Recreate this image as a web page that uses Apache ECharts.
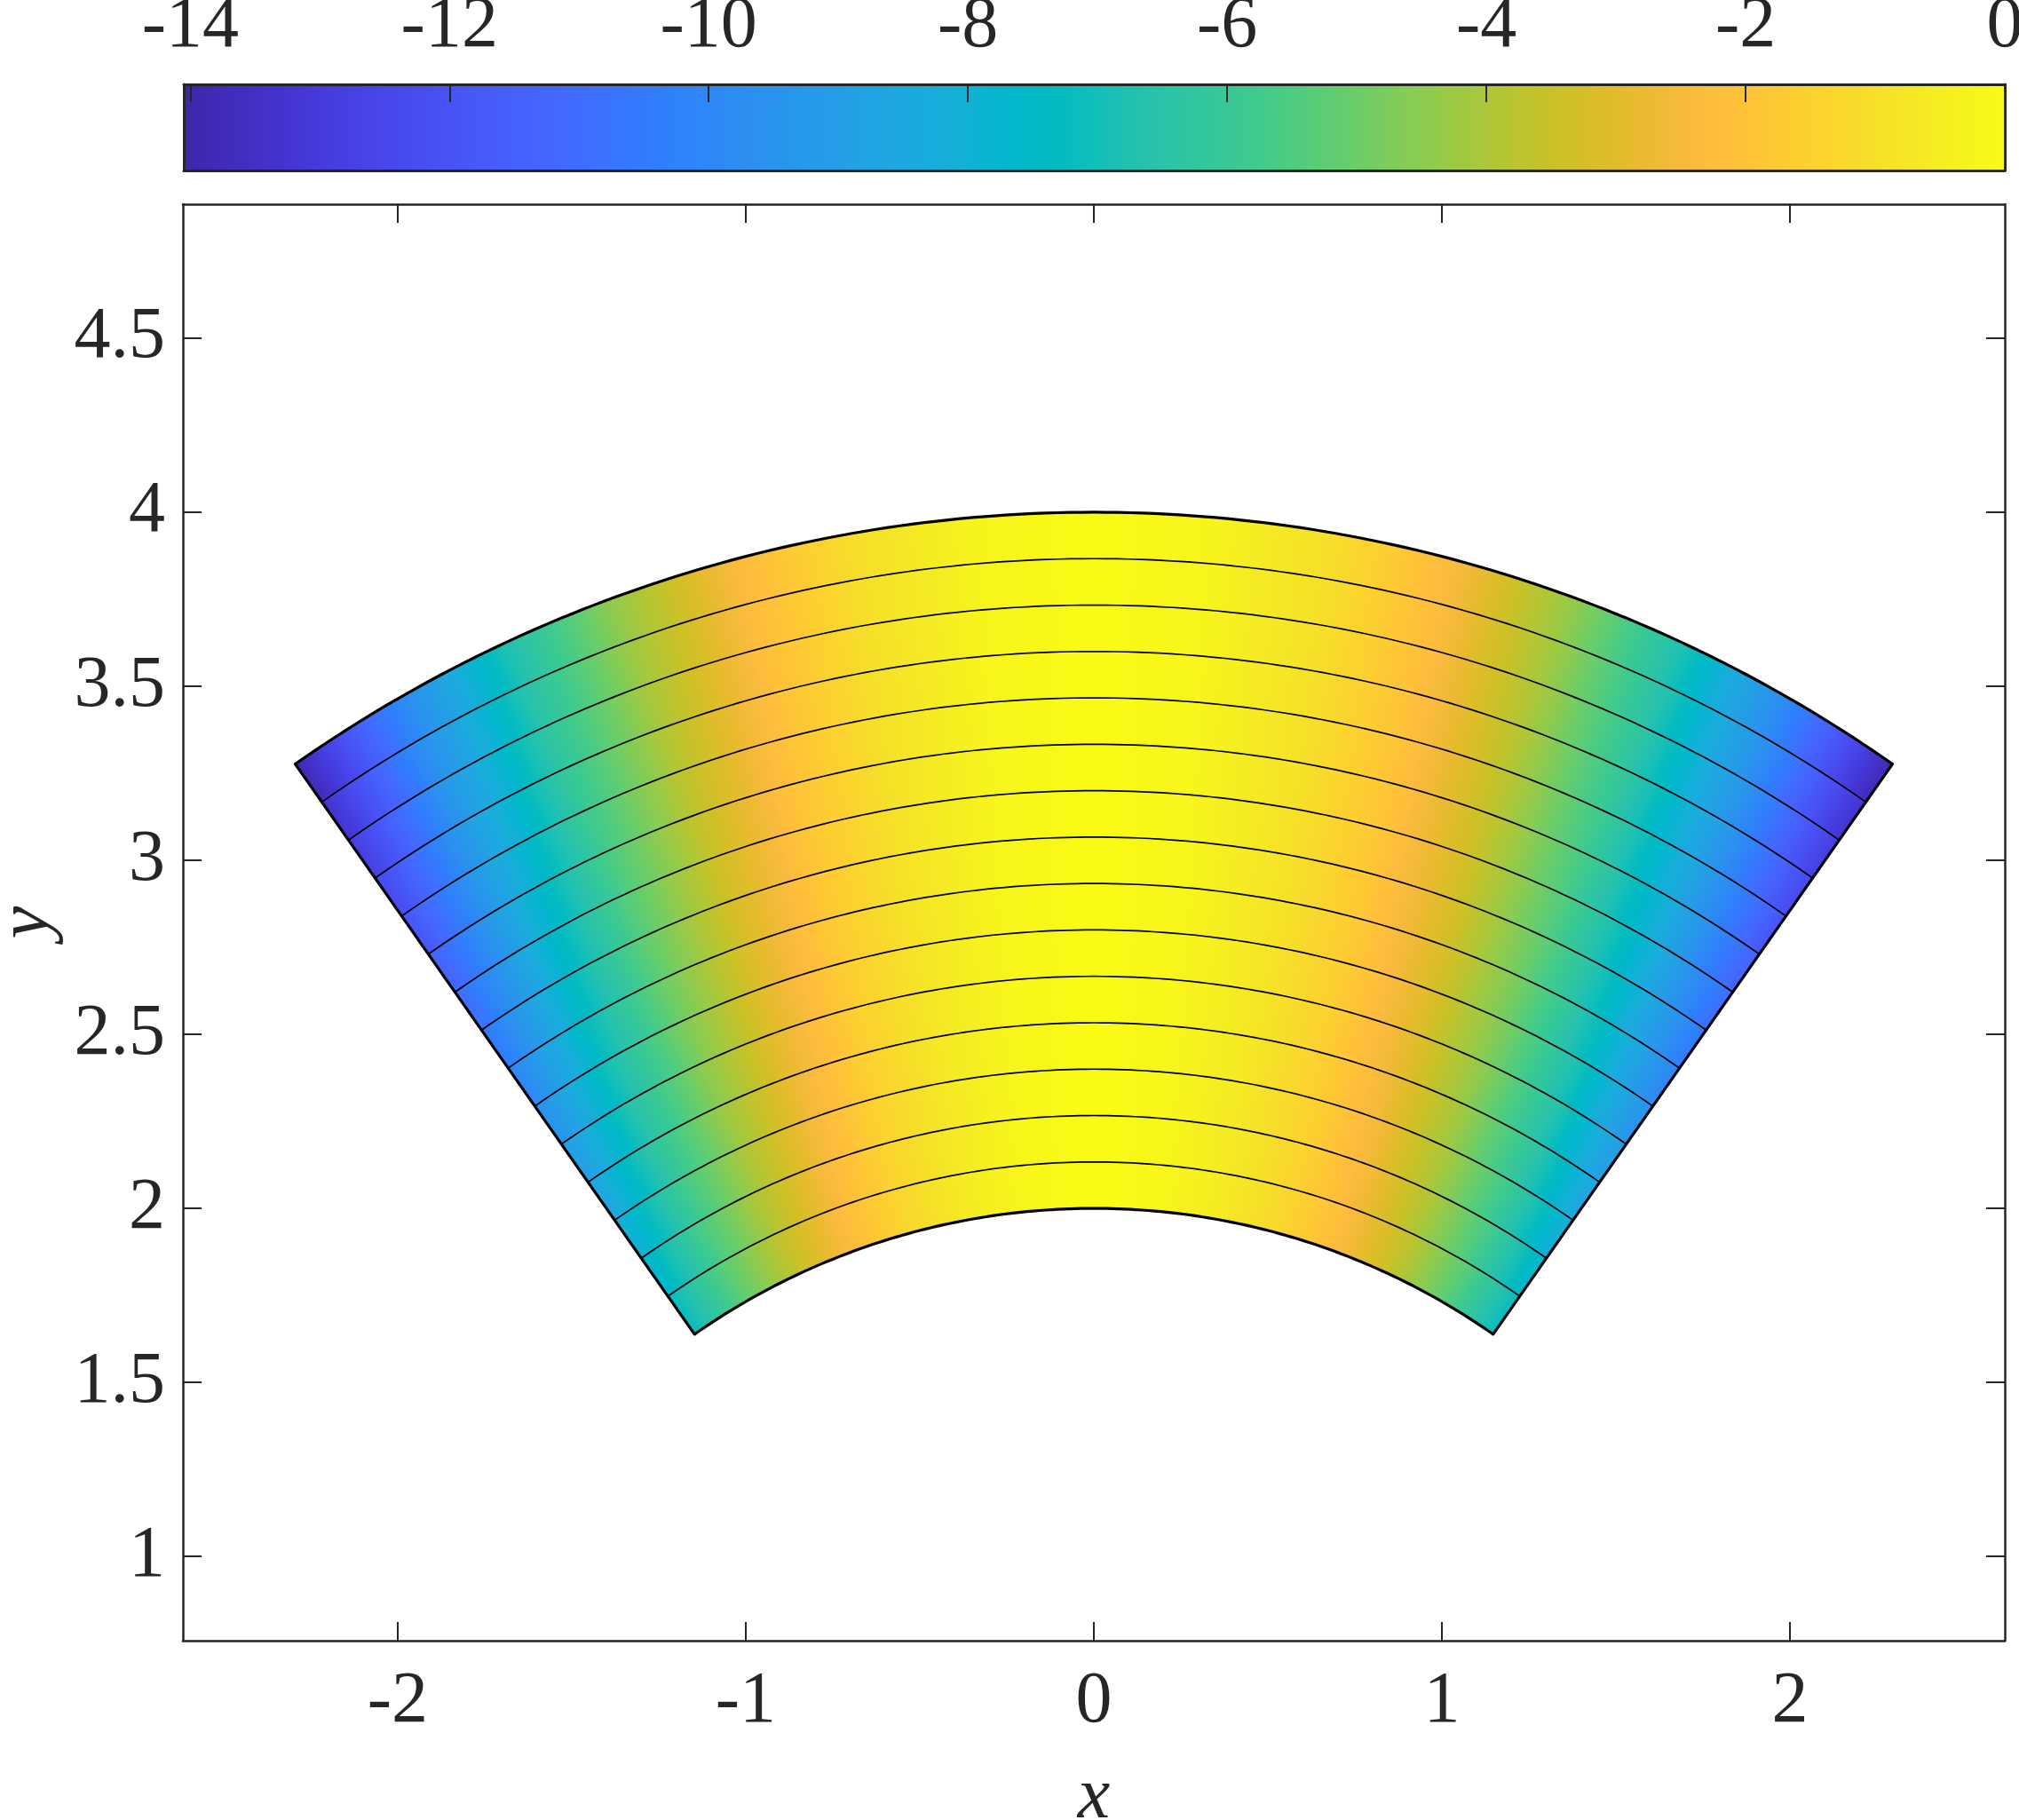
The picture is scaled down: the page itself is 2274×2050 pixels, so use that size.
<!DOCTYPE html>
<html><head><meta charset="utf-8">
<script src="https://cdn.jsdelivr.net/npm/echarts@6/dist/echarts.min.js"></script>
<style>html,body{margin:0;padding:0;background:#fff}#c{width:2274px;height:2050px}</style>
</head><body><div id="c"></div>
<script>
// ---- data ----
const radii = [2.0000, 2.1333, 2.2667, 2.4000, 2.5333, 2.6667, 2.8000, 2.9333,
               3.0667, 3.2000, 3.3333, 3.4667, 3.6000, 3.7333, 3.8667, 4.0000];
const thetaDeg = [-35, -30, -25, -20, -15, -10, -5, 0, 5, 10, 15, 20, 25, 30, 35];
// values[ring][angle]
const values = [
  [-7.03, -5.05, -3.45, -2.18, -1.21, -0.54, -0.13, 0, -0.13, -0.54, -1.21, -2.18, -3.45, -5.05, -7.03],
  [-7.49, -5.39, -3.68, -2.32, -1.29, -0.57, -0.14, 0, -0.14, -0.57, -1.29, -2.32, -3.68, -5.39, -7.49],
  [-7.96, -5.72, -3.91, -2.47, -1.37, -0.61, -0.15, 0, -0.15, -0.61, -1.37, -2.47, -3.91, -5.72, -7.96],
  [-8.43, -6.06, -4.14, -2.61, -1.46, -0.64, -0.16, 0, -0.16, -0.64, -1.46, -2.61, -4.14, -6.06, -8.43],
  [-8.90, -6.40, -4.37, -2.76, -1.54, -0.68, -0.17, 0, -0.17, -0.68, -1.54, -2.76, -4.37, -6.40, -8.90],
  [-9.37, -6.73, -4.60, -2.90, -1.62, -0.71, -0.18, 0, -0.18, -0.71, -1.62, -2.90, -4.60, -6.73, -9.37],
  [-9.84, -7.07, -4.83, -3.05, -1.70, -0.75, -0.19, 0, -0.19, -0.75, -1.70, -3.05, -4.83, -7.07, -9.84],
  [-10.30, -7.41, -5.06, -3.19, -1.78, -0.79, -0.20, 0, -0.20, -0.79, -1.78, -3.19, -5.06, -7.41, -10.30],
  [-10.77, -7.74, -5.29, -3.34, -1.86, -0.82, -0.20, 0, -0.20, -0.82, -1.86, -3.34, -5.29, -7.74, -10.77],
  [-11.24, -8.08, -5.52, -3.48, -1.94, -0.86, -0.21, 0, -0.21, -0.86, -1.94, -3.48, -5.52, -8.08, -11.24],
  [-11.71, -8.42, -5.75, -3.63, -2.02, -0.89, -0.22, 0, -0.22, -0.89, -2.02, -3.63, -5.75, -8.42, -11.71],
  [-12.18, -8.75, -5.98, -3.77, -2.10, -0.93, -0.23, 0, -0.23, -0.93, -2.10, -3.77, -5.98, -8.75, -12.18],
  [-12.65, -9.09, -6.21, -3.92, -2.18, -0.96, -0.24, 0, -0.24, -0.96, -2.18, -3.92, -6.21, -9.09, -12.65],
  [-13.11, -9.43, -6.43, -4.06, -2.26, -1.00, -0.25, 0, -0.25, -1.00, -2.26, -4.06, -6.43, -9.43, -13.11],
  [-13.58, -9.76, -6.66, -4.21, -2.35, -1.04, -0.26, 0, -0.26, -1.04, -2.35, -4.21, -6.66, -9.76, -13.58],
  [-14.05, -10.10, -6.89, -4.36, -2.43, -1.07, -0.27, 0, -0.27, -1.07, -2.43, -4.36, -6.89, -10.10, -14.05]
];
const colorLimits = [-14.05, 0];
const xRange = [-2.617, 2.617];
const yRange = [0.758, 4.885];
const xTicks = [-2, -1, 0, 1, 2];
const yTicks = [1, 1.5, 2, 2.5, 3, 3.5, 4, 4.5];
const cbTicks = [-14, -12, -10, -8, -6, -4, -2, 0];

// parula colormap (64 entries)
const parula = [
[0.2422,0.1504,0.6603],[0.2504,0.1650,0.7076],[0.2578,0.1818,0.7511],[0.2647,0.1978,0.7952],
[0.2706,0.2147,0.8364],[0.2751,0.2342,0.8710],[0.2783,0.2559,0.8991],[0.2803,0.2782,0.9221],
[0.2813,0.3006,0.9414],[0.2810,0.3228,0.9579],[0.2795,0.3447,0.9717],[0.2760,0.3667,0.9829],
[0.2699,0.3892,0.9906],[0.2602,0.4123,0.9952],[0.2440,0.4358,0.9988],[0.2206,0.4603,0.9973],
[0.1963,0.4847,0.9892],[0.1834,0.5074,0.9798],[0.1786,0.5289,0.9682],[0.1764,0.5499,0.9520],
[0.1687,0.5703,0.9359],[0.1540,0.5902,0.9218],[0.1460,0.6091,0.9079],[0.1380,0.6276,0.8973],
[0.1248,0.6459,0.8883],[0.1113,0.6635,0.8763],[0.0952,0.6798,0.8598],[0.0689,0.6948,0.8394],
[0.0297,0.7082,0.8163],[0.0036,0.7203,0.7917],[0.0067,0.7312,0.7660],[0.0433,0.7411,0.7394],
[0.0964,0.7500,0.7120],[0.1408,0.7584,0.6842],[0.1717,0.7670,0.6554],[0.1938,0.7758,0.6251],
[0.2161,0.7843,0.5923],[0.2470,0.7918,0.5567],[0.2906,0.7973,0.5188],[0.3406,0.8008,0.4789],
[0.3909,0.8029,0.4354],[0.4456,0.8024,0.3909],[0.5044,0.7993,0.3480],[0.5616,0.7942,0.3045],
[0.6174,0.7876,0.2612],[0.6720,0.7793,0.2227],[0.7242,0.7698,0.1910],[0.7738,0.7598,0.1646],
[0.8203,0.7498,0.1535],[0.8634,0.7406,0.1596],[0.9035,0.7330,0.1774],[0.9393,0.7288,0.2100],
[0.9728,0.7298,0.2394],[0.9956,0.7434,0.2371],[0.9970,0.7659,0.2199],[0.9952,0.7893,0.2028],
[0.9892,0.8136,0.1885],[0.9786,0.8386,0.1766],[0.9676,0.8639,0.1643],[0.9610,0.8890,0.1537],
[0.9597,0.9135,0.1423],[0.9628,0.9373,0.1265],[0.9691,0.9606,0.1064],[0.9769,0.9839,0.0805]
];

function rgbOf(c) {
  return 'rgb(' + c.map(function (x) { return Math.round(255 * x); }).join(',') + ')';
}
function cmap(v) {
  let t = (v - colorLimits[0]) / (colorLimits[1] - colorLimits[0]);
  t = Math.max(0, Math.min(1, t));
  const f = t * (parula.length - 1);
  const k = Math.min(Math.floor(f), parula.length - 2);
  const u = f - k;
  const a = parula[k], b = parula[k + 1];
  return rgbOf([0, 1, 2].map(function (i) { return a[i] + (b[i] - a[i]) * u; }));
}
const D2R = Math.PI / 180;
function polar(r, deg) { return [r * Math.sin(deg * D2R), r * Math.cos(deg * D2R)]; }

const cells = [];
for (let j = 0; j < radii.length - 1; j++)
  for (let i = 0; i < thetaDeg.length - 1; i++) cells.push([j, i]);
const rings = radii.map(function (r, k) { return [k]; });

const FONT = 'Liberation Serif';
const TXT = '#262626';
const FS = 82;

function mainAxisCommon(extra) {
  return Object.assign({
    type: 'value',
    gridIndex: 0,
    axisLine: { show: true, onZero: false, lineStyle: { color: TXT, width: 2.5 } },
    splitLine: { show: false },
    z: 5
  }, extra);
}

const option = {
  animation: false,
  backgroundColor: '#fff',
  grid: [
    { left: 206, top: 230, width: 2052, height: 1618, containLabel: false, outerBoundsMode: 'none' },
    { left: 207, top: 95, width: 2051, height: 97, containLabel: false, outerBoundsMode: 'none' }
  ],
  xAxis: [
    mainAxisCommon({
      position: 'bottom', min: xRange[0], max: xRange[1],
      axisTick: { show: true, inside: true, length: 21, customValues: xTicks, lineStyle: { color: TXT, width: 2 } },
      axisLabel: { show: true, customValues: xTicks, fontFamily: FONT, fontSize: FS, color: TXT, margin: 28 },
      name: 'x', nameLocation: 'middle', nameGap: 136,
      nameTextStyle: { fontFamily: FONT, fontStyle: 'italic', fontSize: FS, color: TXT }
    }),
    mainAxisCommon({
      position: 'top', min: xRange[0], max: xRange[1],
      axisTick: { show: true, inside: true, length: 21, customValues: xTicks, lineStyle: { color: TXT, width: 2 } },
      axisLabel: { show: false }
    }),
    {
      type: 'value', gridIndex: 1, position: 'top', min: colorLimits[0], max: colorLimits[1], z: 10,
      axisLine: { show: true, onZero: false, lineStyle: { color: TXT, width: 3 } },
      axisTick: { show: true, inside: true, length: 20, customValues: cbTicks, lineStyle: { color: TXT, width: 2 } },
      axisLabel: { show: true, customValues: cbTicks, fontFamily: FONT, fontSize: FS, color: TXT, margin: 24 },
      splitLine: { show: false }
    },
    {
      type: 'value', gridIndex: 1, position: 'bottom', min: colorLimits[0], max: colorLimits[1], z: 10,
      axisLine: { show: true, onZero: false, lineStyle: { color: TXT, width: 3 } },
      axisTick: { show: false }, axisLabel: { show: false }, splitLine: { show: false }
    }
  ],
  yAxis: [
    mainAxisCommon({
      position: 'left', min: yRange[0], max: yRange[1],
      axisTick: { show: true, inside: true, length: 21, customValues: yTicks, lineStyle: { color: TXT, width: 2 } },
      axisLabel: { show: true, customValues: yTicks, fontFamily: FONT, fontSize: FS, color: TXT, margin: 20 },
      name: 'y', nameLocation: 'middle', nameGap: 132, nameRotate: 90,
      nameTextStyle: { fontFamily: FONT, fontStyle: 'italic', fontSize: FS, color: TXT }
    }),
    mainAxisCommon({
      position: 'right', min: yRange[0], max: yRange[1],
      axisTick: { show: true, inside: true, length: 21, customValues: yTicks, lineStyle: { color: TXT, width: 2 } },
      axisLabel: { show: false }
    }),
    {
      type: 'value', gridIndex: 1, position: 'left', min: 0, max: 1, z: 10,
      axisLine: { show: true, onZero: false, lineStyle: { color: TXT, width: 3 } },
      axisTick: { show: false }, axisLabel: { show: false }, splitLine: { show: false }
    },
    {
      type: 'value', gridIndex: 1, position: 'right', min: 0, max: 1, z: 10,
      axisLine: { show: true, onZero: false, lineStyle: { color: TXT, width: 3 } },
      axisTick: { show: false }, axisLabel: { show: false }, splitLine: { show: false }
    }
  ],
  series: [
    {
      type: 'custom', xAxisIndex: 2, yAxisIndex: 2, z: 1, silent: true,
      data: [[colorLimits[0], 0]],
      renderItem: function (params, api) {
        const p0 = api.coord([colorLimits[0], 1]);
        const p1 = api.coord([colorLimits[1], 0]);
        const stops = parula.map(function (c, k) { return { offset: k / (parula.length - 1), color: rgbOf(c) }; });
        return {
          type: 'rect',
          shape: { x: p0[0], y: p0[1], width: p1[0] - p0[0], height: p1[1] - p0[1] },
          style: { fill: new echarts.graphic.LinearGradient(0, 0, 1, 0, stops) }
        };
      }
    },
    {
      type: 'custom', xAxisIndex: 0, yAxisIndex: 0, z: 2, silent: true,
      data: cells,
      renderItem: function (params, api) {
        const j = api.value(0), i = api.value(1);
        const r0 = radii[j], r1 = radii[j + 1];
        const t0 = thetaDeg[i], t1 = thetaDeg[i + 1];
        const N = 8, pts = [];
        for (let k = 0; k <= N; k++) pts.push(api.coord(polar(r1, t0 + (t1 - t0) * k / N)));
        for (let k = N; k >= 0; k--) pts.push(api.coord(polar(r0, t0 + (t1 - t0) * k / N)));
        const vL = (values[j][i] + values[j + 1][i]) / 2;
        const vR = (values[j][i + 1] + values[j + 1][i + 1]) / 2;
        const rm = (r0 + r1) / 2;
        const pL = api.coord(polar(rm, t0)), pR = api.coord(polar(rm, t1));
        const M = 16, stops = [];
        for (let s = 0; s <= M; s++) stops.push({ offset: s / M, color: cmap(vL + (vR - vL) * s / M) });
        const grad = new echarts.graphic.LinearGradient(pL[0], pL[1], pR[0], pR[1], stops, true);
        return { type: 'polygon', shape: { points: pts }, style: { fill: grad, stroke: grad, lineWidth: 1.2 } };
      }
    },
    {
      type: 'custom', xAxisIndex: 0, yAxisIndex: 0, z: 3, silent: true,
      data: rings,
      renderItem: function (params, api) {
        const k = api.value(0);
        const r = radii[k];
        const a0 = thetaDeg[0], a1 = thetaDeg[thetaDeg.length - 1];
        const pts = [];
        for (let a = a0; a <= a1 + 1e-9; a += 0.5) pts.push(api.coord(polar(r, a)));
        const edge = (k === 0 || k === radii.length - 1);
        const children = [{
          type: 'polyline', shape: { points: pts },
          style: { fill: 'none', stroke: '#000', lineWidth: edge ? 3.2 : 1.7 }
        }];
        if (k === 0) {
          const rO = radii[radii.length - 1];
          [a0, a1].forEach(function (a) {
            const p = api.coord(polar(r, a)), q = api.coord(polar(rO, a));
            children.push({
              type: 'line',
              shape: { x1: p[0], y1: p[1], x2: q[0], y2: q[1] },
              style: { stroke: '#000', lineWidth: 3.2, lineCap: 'round' }
            });
          });
        }
        return { type: 'group', children: children };
      }
    }
  ]
};

const chart = echarts.init(document.getElementById('c'), null, { renderer: 'canvas' });
chart.setOption(option);
</script>
</body></html>
